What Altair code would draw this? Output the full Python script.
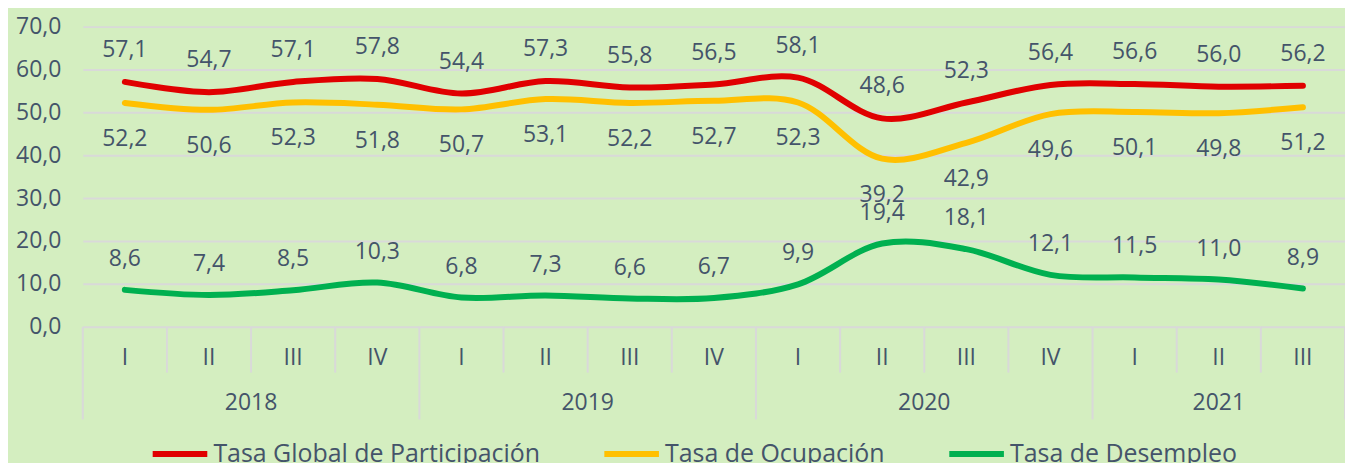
import altair as alt
import pandas as pd

quarters = ["I", "II", "III", "IV", "I", "II", "III", "IV", "I", "II", "III", "IV", "I", "II", "III"]
years = ["2018"] * 4 + ["2019"] * 4 + ["2020"] * 4 + ["2021"] * 3
series_names = ["Tasa Global de Participación", "Tasa de Ocupación", "Tasa de Desempleo"]
global_part = [57.1, 54.7, 57.1, 57.8, 54.4, 57.3, 55.8, 56.5, 58.1, 48.6, 52.3, 56.4, 56.6, 56.0, 56.2]
ocupacion = [52.2, 50.6, 52.3, 51.8, 50.7, 53.1, 52.2, 52.7, 52.3, 39.2, 42.9, 49.6, 50.1, 49.8, 51.2]
desempleo = [8.6, 7.4, 8.5, 10.3, 6.8, 7.3, 6.6, 6.7, 9.9, 19.4, 18.1, 12.1, 11.5, 11.0, 8.9]
colors = ["#e00000", "#ffc000", "#00b050"]

TEXT = "#44546a"
GRID = "#d9d9d9"
FONT = "Open Sans"
W, H = 1266, 301

rows = []
for name, vals in zip(series_names, [global_part, ocupacion, desempleo]):
    for i, v in enumerate(vals):
        rows.append({"pos": i + 0.5, "serie": name, "value": v,
                     "label": f"{v:.1f}".replace(".", ",")})
df = pd.DataFrame(rows)

qdf = pd.DataFrame({"pos": [i + 0.5 for i in range(len(quarters))], "q": quarters})
ylist = ["2018", "2019", "2020", "2021"]
ydf = pd.DataFrame({"year": ylist,
                    "pos": [sum(1 for y in years if y < yy) + years.count(yy) / 2 for yy in ylist]})
year_bounds = [0, 4, 8, 12, 15]
short_b = pd.DataFrame({"b": [b for b in range(16) if b not in year_bounds]})
tall_b = pd.DataFrame({"b": year_bounds})

xscale = alt.Scale(domain=[0, 15], nice=False, zero=False)
yscale = alt.Scale(domain=[0, 70], nice=False)

base = alt.Chart(df)

lines = base.mark_line(interpolate="catmull-rom", strokeWidth=6, strokeCap="round").encode(
    x=alt.X("pos:Q", scale=xscale, axis=None),
    y=alt.Y("value:Q", scale=yscale, title=None,
            axis=alt.Axis(values=list(range(0, 80, 10)), grid=True, gridColor=GRID, gridWidth=2,
                          domain=False, ticks=False, labelFontSize=23, labelColor=TEXT,
                          labelFont=FONT, labelPadding=22,
                          labelExpr="replace(format(datum.value, '.1f'), '.', ',')")),
    color=alt.Color("serie:N", scale=alt.Scale(domain=series_names, range=colors),
                    legend=alt.Legend(orient="none", legendX=67, legendY=398, direction="horizontal",
                                      title=None, symbolType="stroke", symbolStrokeWidth=6,
                                      symbolSize=3000, labelFontSize=25, labelColor=TEXT,
                                      labelFont=FONT, labelOffset=3, columnPadding=52,
                                      labelLimit=500)),
)

def labels(name, dy):
    return base.transform_filter(alt.datum.serie == name).mark_text(
        fontSize=23, color=TEXT, font=FONT, dy=dy).encode(
        x=alt.X("pos:Q", scale=xscale, axis=None),
        y=alt.Y("value:Q", scale=yscale), text="label:N")

lab_g = labels(series_names[0], -32)
lab_o = labels(series_names[1], 36)
lab_d = labels(series_names[2], -31)

rule_short = alt.Chart(short_b).mark_rule(color=GRID, strokeWidth=2).encode(
    x=alt.X("b:Q", scale=xscale, axis=None), y=alt.value(H), y2=alt.value(H + 46))
rule_tall = alt.Chart(tall_b).mark_rule(color=GRID, strokeWidth=2).encode(
    x=alt.X("b:Q", scale=xscale, axis=None), y=alt.value(H), y2=alt.value(H + 93))

qtext = alt.Chart(qdf).mark_text(fontSize=23, color=TEXT, font=FONT).encode(
    x=alt.X("pos:Q", scale=xscale, axis=None), y=alt.value(H + 31), text="q:N")
ytext = alt.Chart(ydf).mark_text(fontSize=23, color=TEXT, font=FONT).encode(
    x=alt.X("pos:Q", scale=xscale, axis=None), y=alt.value(H + 77), text="year:N")

chart = alt.layer(rule_short, rule_tall, lines, lab_g, lab_o, lab_d, qtext, ytext).properties(
    width=W, height=H,
    autosize=alt.AutoSizeParams(type="none"),
    padding={"left": 75, "top": 18, "right": 0, "bottom": 136},
).configure(background="#d4eec0").configure_view(stroke=None)

chart.save("out.html", embed_options={"renderer": "svg", "actions": False})
